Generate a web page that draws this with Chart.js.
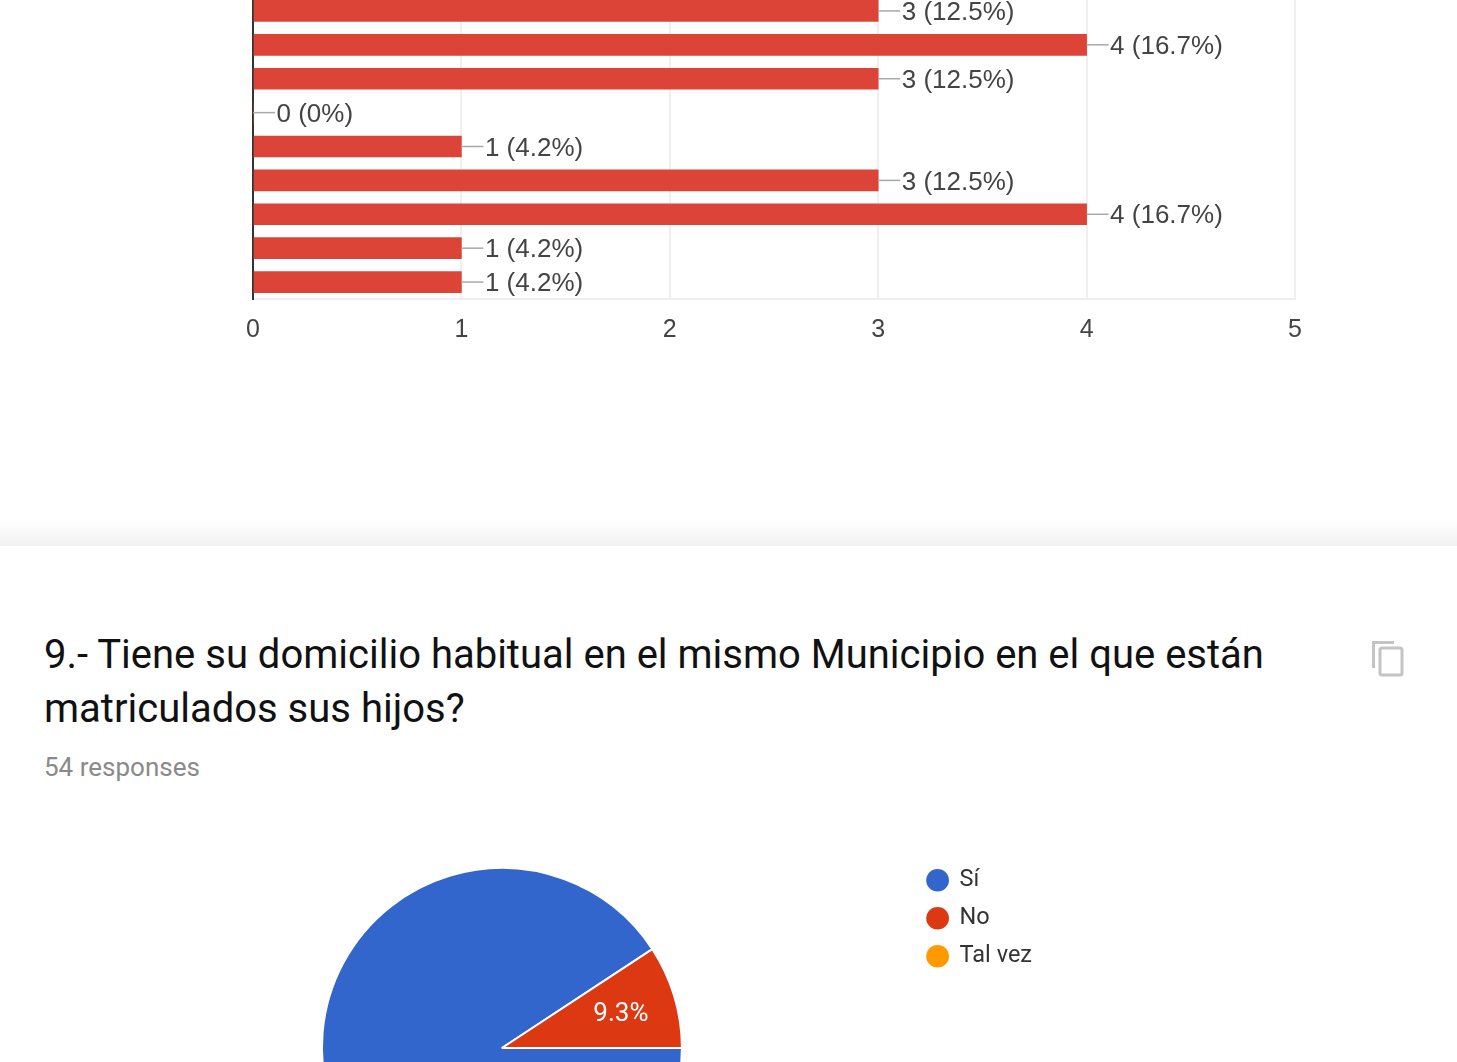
<!DOCTYPE html>
<html><head><meta charset="utf-8">
<script src="https://cdn.jsdelivr.net/npm/chart.js@4"></script>
<style>
html,body{margin:0;padding:0;background:#fff;width:1457px;height:1062px;overflow:hidden}
#wrap{position:relative;width:1457px;height:1062px;overflow:hidden}
canvas{position:absolute;display:block}
#band{position:absolute;left:0;top:520px;width:1457px;height:26px;background:linear-gradient(#fff,#f1f1f1)}
.t{position:absolute;white-space:nowrap;font-family:Roboto,sans-serif}
#q{left:44px;top:628px;font-size:40px;line-height:54px;color:#111}
#r{left:44px;top:752px;font-size:26px;line-height:30px;color:#8a8a8a}
#ic{position:absolute;left:1370px;top:638px}
</style></head><body><div id="wrap">
<canvas id="bar" width="1457" height="360" style="left:0;top:-6px"></canvas>
<div id="band"></div>
<div class="t" id="q">9.- Tiene su domicilio habitual en el mismo Municipio en el que están<br>matriculados sus hijos?</div>
<div class="t" id="r">54 responses</div>
<svg id="ic" width="36" height="40" viewBox="0 0 36 40" fill="none" stroke="#c4c4c4" stroke-width="3"><path d="M3.5 30V4.5H24"/><rect x="10" y="10" width="22" height="27" rx="2"/></svg>
<canvas id="pie" width="960" height="388" style="left:82px;top:854px"></canvas>
</div>
<script>
const barCategories = ['1','2','3','4','5','6','7','8','9'];
const barValues = [3,4,3,0,1,3,4,1,1];
const barLabels = ['3 (12.5%)','4 (16.7%)','3 (12.5%)','0 (0%)','1 (4.2%)','3 (12.5%)','4 (16.7%)','1 (4.2%)','1 (4.2%)'];
const xTicks = [0,1,2,3,4,5];
const pieLabels = ['Sí','No','Tal vez'];
const pieValues = [49,5,0];
const pieColors = ['#3366cc','#dc3912','#ff9900'];
const pieText = ['', '9.3%', ''];

const barFont = '26px "Liberation Sans", Arial, sans-serif';

const barLabelPlugin = {
  id:'barLabelPlugin',
  afterDatasetsDraw(chart){
    const ctx = chart.ctx;
    const meta = chart.getDatasetMeta(0);
    ctx.save();
    ctx.font = barFont;
    ctx.textBaseline = 'middle';
    meta.data.forEach((el,i)=>{
      const x = el.x, y = el.y;
      ctx.strokeStyle = '#a8a8a8';
      ctx.lineWidth = 1.5;
      ctx.beginPath(); ctx.moveTo(x,y); ctx.lineTo(x+22,y); ctx.stroke();
      ctx.fillStyle = '#444';
      ctx.fillText(barLabels[i], x+23.5, y+2);
    });
    ctx.restore();
  }
};

new Chart(document.getElementById('bar'),{
  type:'bar',
  plugins:[barLabelPlugin],
  data:{labels:barCategories,datasets:[{data:barValues,backgroundColor:'#db4437',barThickness:21,borderWidth:0}]},
  options:{
    indexAxis:'y',responsive:false,animation:false,
    layout:{padding:{right:162,top:0,bottom:0,left:0}},
    plugins:{legend:{display:false},tooltip:{enabled:false}},
    scales:{
      x:{min:0,max:5,
        afterBuildTicks(s){s.ticks=xTicks.map(v=>({value:v}));},
        afterFit(s){s.height=55;},
        grid:{color:'#efefef',lineWidth:2,drawTicks:false},
        border:{display:true,color:'#efefef',width:2},
        ticks:{color:'#444',font:{family:'"Liberation Sans", Arial, sans-serif',size:25},padding:16,maxRotation:0}},
      y:{afterFit(s){s.width=253;},
        grid:{display:false,drawTicks:false},
        border:{display:true,color:'#333',width:2},
        ticks:{display:false}}
    }
  }
});

const sliceLabelPlugin = {
  id:'sliceLabelPlugin',
  afterDatasetsDraw(chart){
    const ctx = chart.ctx;
    ctx.save();
    ctx.font = '26px Roboto, sans-serif';
    ctx.fillStyle = '#fff';
    ctx.textAlign = 'center';
    ctx.textBaseline = 'middle';
    chart.getDatasetMeta(0).data.forEach((el,i)=>{
      if(!pieText[i]) return;
      const a = (el.startAngle+el.endAngle)/2;
      const r = el.outerRadius*0.69;
      ctx.fillText(pieText[i], el.x+Math.cos(a)*r, el.y+Math.sin(a)*r+2);
    });
    ctx.restore();
  }
};

new Chart(document.getElementById('pie'),{
  type:'pie',
  plugins:[sliceLabelPlugin],
  data:{labels:pieLabels,datasets:[{data:pieValues,backgroundColor:pieColors,borderColor:'#fff',borderWidth:2,radius:180,rotation:90}]},
  options:{
    responsive:false,animation:false,
    layout:{padding:{left:9}},
    plugins:{tooltip:{enabled:false},
      legend:{position:'right',align:'start',
        labels:{usePointStyle:true,pointStyle:'circle',boxHeight:17.5,boxWidth:20.5,padding:14.5,color:'#333',
          font:{family:'Roboto, sans-serif',size:23.5}}}}
  }
});
</script></body></html>
